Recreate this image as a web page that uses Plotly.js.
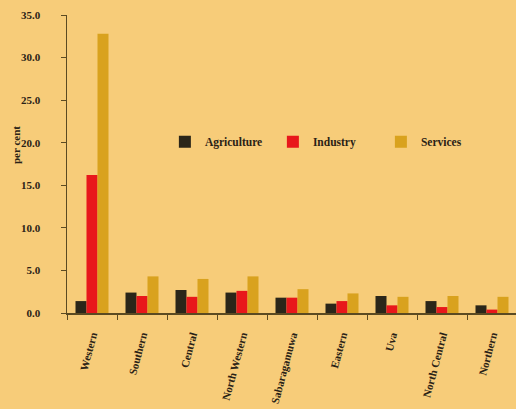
<!DOCTYPE html>
<html>
<head>
<meta charset="utf-8">
<script src="https://cdn.plot.ly/plotly-3.0.1.min.js"></script>
<style>
  html, body { margin: 0; padding: 0; background: #F7CC79; }
  #chart { width: 516px; height: 409px; }
</style>
</head>
<body>
<div id="chart"></div>
<script>
// Share of each sector by province, per cent
const provinces = ["Western", "Southern", "Central", "North Western", "Sabaragamuwa",
                   "Eastern", "Uva", "North Central", "Northern"];
const agriculture = [1.4, 2.4, 2.7, 2.4, 1.8, 1.1, 2.0, 1.4, 0.9];
const industry    = [16.2, 2.0, 1.9, 2.6, 1.8, 1.4, 0.9, 0.7, 0.4];
const services    = [32.8, 4.3, 4.0, 4.3, 2.8, 2.3, 1.9, 2.0, 1.9];
const yTicks = [0, 5, 10, 15, 20, 25, 30, 35];

const bg = "#F7CC79";
const axisColor = "#5b4a22";
const textColor = "#2a2216";
const serif = "Liberation Serif, Times New Roman, serif";

const traces = [
  { name: "Agriculture", y: agriculture, color: "#2b2619" },
  { name: "Industry",    y: industry,    color: "#e8171b" },
  { name: "Services",    y: services,    color: "#d9a21e" }
].map(s => ({
  type: "bar",
  name: s.name,
  x: provinces,
  y: s.y,
  marker: { color: s.color, line: { width: 0 } },
  hoverinfo: "x+y+name"
}));

const layout = {
  width: 516,
  height: 409,
  paper_bgcolor: bg,
  plot_bgcolor: bg,
  margin: { l: 67, r: 0, t: 15, b: 96 },
  barmode: "group",
  bargap: 0.34,
  bargroupgap: 0,
  font: { family: serif, color: textColor, size: 11 },
  showlegend: true,
  legend: {
    orientation: "h",
    x: 0.218, xanchor: "left",
    y: 0.575, yanchor: "middle",
    entrywidth: 63,
    entrywidthmode: "pixels",
    bgcolor: "rgba(0,0,0,0)",
    font: { family: serif, size: 11.5, color: textColor, weight: "bold" },
    itemclick: false
  },
  xaxis: {
    type: "category",
    range: [-0.5, 8.48],
    showline: true,
    linecolor: axisColor,
    linewidth: 1.5,
    showgrid: false,
    zeroline: false,
    ticks: "outside",
    tickson: "boundaries",
    ticklen: 5,
    tickcolor: axisColor,
    tickangle: -75,
    ticklabelstandoff: 10,
    tickfont: { family: serif, size: 11, color: textColor, weight: "bold" },
    fixedrange: true
  },
  yaxis: {
    range: [0, 35],
    tickvals: yTicks,
    ticktext: yTicks.map(v => v.toFixed(1)),
    showline: true,
    linecolor: axisColor,
    linewidth: 1.5,
    showgrid: false,
    zeroline: false,
    ticks: "outside",
    ticklen: 5,
    tickcolor: axisColor,
    ticklabelstandoff: 18,
    tickfont: { family: serif, size: 11, color: textColor, weight: "bold" },
    fixedrange: true
  },
  annotations: [{
    text: "per cent",
    textangle: -90,
    xref: "paper", yref: "paper",
    x: -0.115, y: 0.565,
    xanchor: "center", yanchor: "middle",
    showarrow: false,
    font: { family: serif, size: 11, color: textColor, weight: "bold" }
  }]
};

Plotly.newPlot("chart", traces, layout, { displayModeBar: false, staticPlot: true });
</script>
</body>
</html>
